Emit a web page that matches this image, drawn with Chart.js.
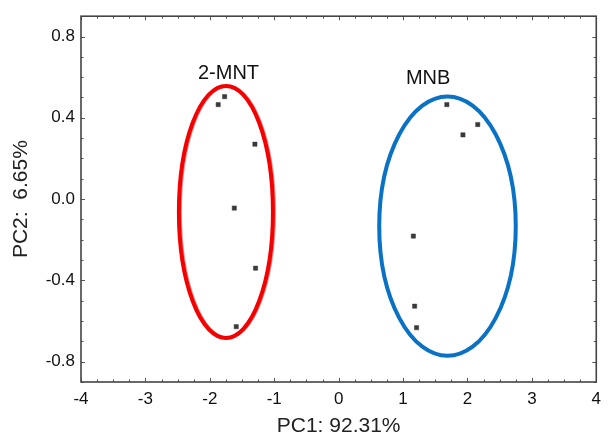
<!DOCTYPE html>
<html>
<head>
<meta charset="utf-8">
<script src="https://cdn.jsdelivr.net/npm/chart.js@4/dist/chart.umd.min.js"></script>
<style>
  html, body { margin: 0; padding: 0; background: #fff; }
  #wrap { width: 608px; height: 439px; }
</style>
</head>
<body>
<div id="wrap"><canvas id="pca" width="608" height="439"></canvas></div>
<script>
// scores (PC1, PC2)
const mntX = [-1.77, -1.87, -1.30, -1.62, -1.29, -1.59];
const mntY = [0.504, 0.465, 0.270, -0.044, -0.340, -0.628];
const mnbX = [1.68, 2.16, 1.93, 1.16, 1.18, 1.21];
const mnbY = [0.465, 0.367, 0.316, -0.182, -0.527, -0.633];

// group ellipses: [centre x, centre y, radius x, radius y]
const mntEllipse = [-1.75, -0.063, 0.73, 0.62];
const mnbEllipse = [1.69, -0.133, 1.06, 0.638];

// group names and where they sit (data units)
const groupNames = ['2-MNT', 'MNB'];
const groupLabelX = [-1.71, 1.39];
const groupLabelY = [0.62, 0.595];

const xTicks = [-4, -3, -2, -1, 0, 1, 2, 3, 4];
const yTicks = [-0.8, -0.4, 0.0, 0.4, 0.8];

const FONT = "'Liberation Sans', Arial, sans-serif";

function pts(xs, ys) {
  return xs.map((x, i) => ({ x: x, y: ys[i] }));
}

// ellipses + group names
const groupsPlugin = {
  id: 'groups',
  beforeDatasetsDraw(chart) {
    const ctx = chart.ctx;
    const sx = chart.scales.x, sy = chart.scales.y;
    const draw = (e, color, shadow) => {
      const cx = sx.getPixelForValue(e[0]);
      const cy = sy.getPixelForValue(e[1]);
      const rx = Math.abs(sx.getPixelForValue(e[0] + e[2]) - cx);
      const ry = Math.abs(sy.getPixelForValue(e[1] + e[3]) - cy);
      ctx.save();
      if (shadow) {
        // faint offset copy, like the doubled outline in the original
        ctx.beginPath();
        ctx.ellipse(cx + 1.5, cy, rx, ry, 0, 0, Math.PI * 2);
        ctx.lineWidth = 3;
        ctx.strokeStyle = shadow;
        ctx.stroke();
      }
      ctx.beginPath();
      ctx.ellipse(cx, cy, rx, ry, 0, 0, Math.PI * 2);
      ctx.lineWidth = 4;
      ctx.strokeStyle = color;
      ctx.stroke();
      ctx.restore();
    };
    draw(mntEllipse, '#f40000', 'rgba(200,0,0,0.45)');
    draw(mnbEllipse, '#0a72c4', null);

    ctx.save();
    ctx.font = '20px ' + FONT;
    ctx.fillStyle = '#111';
    ctx.textAlign = 'center';
    ctx.textBaseline = 'middle';
    groupNames.forEach((name, i) => {
      ctx.fillText(name, sx.getPixelForValue(groupLabelX[i]), sy.getPixelForValue(groupLabelY[i]));
    });
    ctx.restore();
  }
};

// frame with inward ticks on all four sides
const framePlugin = {
  id: 'frame',
  afterDraw(chart) {
    const ctx = chart.ctx;
    const a = chart.chartArea;
    const sx = chart.scales.x, sy = chart.scales.y;
    ctx.save();
    ctx.strokeStyle = '#555';
    ctx.lineWidth = 1;
    ctx.beginPath();
    for (let v = -4; v <= 4.001; v += 0.25) {
      const px = Math.round(sx.getPixelForValue(v)) + 0.5;
      const len = Math.abs(v - Math.round(v)) < 1e-6 ? 4 : 2.5;
      ctx.moveTo(px, a.bottom); ctx.lineTo(px, a.bottom - len);
      ctx.moveTo(px, a.top); ctx.lineTo(px, a.top + len);
    }
    for (let v = -0.9; v <= 0.901; v += 0.1) {
      const py = Math.round(sy.getPixelForValue(v)) + 0.5;
      const major = yTicks.some(t => Math.abs(t - v) < 1e-6);
      const len = major ? 4 : 2.5;
      ctx.moveTo(a.left, py); ctx.lineTo(a.left + len, py);
      ctx.moveTo(a.right, py); ctx.lineTo(a.right - len, py);
    }
    ctx.stroke();
    ctx.lineWidth = 1.6;
    ctx.strokeStyle = '#444';
    ctx.strokeRect(a.left, a.top, a.right - a.left, a.bottom - a.top);
    ctx.restore();
  }
};

const pointStyle = {
  pointStyle: 'rect',
  pointRadius: 3,
  pointHoverRadius: 3,
  backgroundColor: '#3a3a3a',
  borderColor: 'rgba(60,60,60,0.5)',
  borderWidth: 1,
  showLine: false
};

new Chart(document.getElementById('pca'), {
  type: 'scatter',
  data: {
    datasets: [
      Object.assign({ label: '2-MNT', data: pts(mntX, mntY) }, pointStyle),
      Object.assign({ label: 'MNB', data: pts(mnbX, mnbY) }, pointStyle)
    ]
  },
  options: {
    responsive: false,
    animation: false,
    layout: { padding: { top: 12, right: 6, left: 0, bottom: 0 } },
    plugins: {
      legend: { display: false },
      tooltip: { enabled: false }
    },
    scales: {
      x: {
        type: 'linear',
        min: -4,
        max: 4,
        afterBuildTicks: s => { s.ticks = xTicks.map(v => ({ value: v })); },
        afterFit: s => { s.height = 57; },
        grid: { display: false, drawTicks: false },
        border: { display: false },
        ticks: {
          padding: 7,
          color: '#111',
          font: { family: FONT, size: 17 },
          callback: v => String(v)
        },
        title: {
          display: true,
          text: 'PC1: 92.31%',
          color: '#222',
          font: { family: FONT, size: 21 },
          padding: { top: 0, bottom: 0 }
        }
      },
      y: {
        type: 'linear',
        min: -0.9,
        max: 0.9,
        afterBuildTicks: s => { s.ticks = yTicks.map(v => ({ value: v })); },
        afterFit: s => { s.width = 81; },
        grid: { display: false, drawTicks: false },
        border: { display: false },
        ticks: {
          padding: 6,
          color: '#111',
          font: { family: FONT, size: 17 },
          callback: v => v.toFixed(1)
        },
        title: {
          display: true,
          text: 'PC2:  6.65%',
          color: '#222',
          font: { family: FONT, size: 21 },
          padding: { top: 9, bottom: 0 }
        }
      }
    }
  },
  plugins: [groupsPlugin, framePlugin]
});
</script>
</body>
</html>
